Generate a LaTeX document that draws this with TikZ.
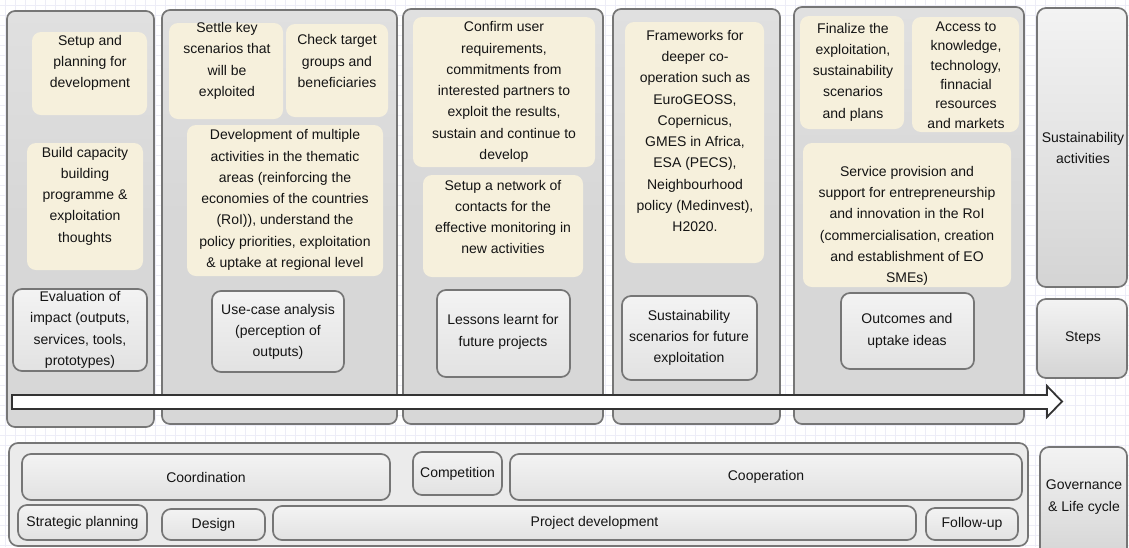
\documentclass[tikz,border=0pt]{standalone}
\usepackage{fontspec}
\setmainfont{Liberation Sans}
\definecolor{edge}{RGB}{118,118,118}
\definecolor{panelA}{RGB}{224,224,224}
\definecolor{panelB}{RGB}{215,215,215}
\definecolor{cream}{RGB}{246,240,220}
\definecolor{boxtop}{RGB}{243,243,243}
\definecolor{boxbot}{RGB}{226,226,226}
\definecolor{sidetop}{RGB}{243,243,243}
\definecolor{sidebot}{RGB}{212,212,212}
\definecolor{ink}{RGB}{20,20,20}
\definecolor{gridc}{RGB}{237,237,247}
\definecolor{arrowc}{RGB}{51,51,51}
% box node spanning the rectangle (x1,y1)-(x2,y2), coordinates in px
\newcommand\mkbox[6]{%
  \node[#1, minimum width={(#5)-(#3)}, minimum height={(#6)-(#4)}, inner sep=0pt]
    (#2) at ({((#3)+(#5))/2},{((#4)+(#6))/2}) {};}
\begin{document}
\begin{tikzpicture}[x=1pt,y=-1pt,
  panel/.style={draw=edge, line width=1.7pt, rounded corners=8pt, top color=panelA, bottom color=panelB, middle color=panelB},
  creambox/.style={fill=cream, rounded corners=9pt},
  graybox/.style={draw=edge, line width=1.7pt, rounded corners=9pt, top color=boxtop, bottom color=boxbot},
  sidebox/.style={draw=edge, line width=1.7pt, rounded corners=9pt, top color=sidetop, bottom color=sidebot},
  basebox/.style={draw=edge, line width=1.7pt, rounded corners=9pt, fill=boxbot!70!white},
  txt/.style={font=\fontsize{14}{21.3}\selectfont, align=center, inner sep=0pt, text=ink},
  gridline/.style={draw=gridc, line width=0.6pt},
  timeline/.style={draw=arrowc, line width=1.8pt, fill=white, line join=miter}]
\useasboundingbox (0,0) rectangle (1129,547);
\clip (0,0) rectangle (1129,547);

% background grid
\foreach \gx in {5,15,...,1125} \draw[gridline] (\gx,0) -- (\gx,547);
\foreach \gy in {5,15,...,545} \draw[gridline] (0,\gy) -- (1129,\gy);

% phase columns
\mkbox{panel}{p1}{7}{11}{154}{427}
\mkbox{panel}{p2}{162}{10}{397}{424}
\mkbox{panel}{p3}{403}{9}{603}{424}
\mkbox{panel}{p4}{613}{9}{780}{424}
\mkbox{panel}{p5}{794}{7}{1024}{424}

% row labels on the right
\mkbox{sidebox}{rsust}{1037}{8}{1127}{287}
\mkbox{sidebox}{rsteps}{1037}{299}{1127}{378}
\mkbox{sidebox}{rgov}{1040}{447}{1127}{562}
\node[txt] (tsust) at (1083,148) {Sustainability\\activities};
\node[txt] (tsteps) at (1083,338) {Steps};
\node[txt] (tgov) at (1084,497) {Governance\\\& Life cycle};

% sustainability activities
\mkbox{creambox}{c1}{32}{32}{147}{115}
\mkbox{creambox}{c2}{27}{143}{143}{270}
\mkbox{creambox}{c3}{169}{23}{283}{119}
\mkbox{creambox}{c4}{286}{24}{388}{117}
\mkbox{creambox}{c5}{187}{125}{383}{276}
\mkbox{creambox}{c6}{413}{17}{595}{167}
\mkbox{creambox}{c7}{423}{175}{583}{277}
\mkbox{creambox}{c8}{625}{22}{764}{263}
\mkbox{creambox}{c9}{800}{16}{904}{129}
\mkbox{creambox}{c10}{912}{17}{1019}{132}
\mkbox{creambox}{c11}{803}{143}{1011}{287}

\node[txt] (t1) at (90,63) {Setup and\\planning for\\development};
\node[txt] (t2) at (85,196) {Build capacity\\building\\programme \&\\exploitation\\thoughts};
\node[txt] (t3) at (227,61) {Settle key\\scenarios that\\will be\\exploited};
\node[txt] (t4) at (337,61) {Check target\\groups and\\beneficiaries};
\node[txt] (t5) at (285,200) {Development of multiple\\activities in the thematic\\areas (reinforcing the\\economies of the countries\\(RoI)), understand the\\policy priorities, exploitation\\\& uptake at regional level};
\node[txt] (t6) at (504,92) {Confirm user\\requirements,\\commitments from\\interested partners to\\exploit the results,\\sustain and continue to\\develop};
\node[txt] (t7) at (503,217) {Setup a network of\\contacts for the\\effective monitoring in\\new activities};
\node[txt] (t8) at (695,131) {Frameworks for\\deeper co-\\operation such as\\EuroGEOSS,\\Copernicus,\\GMES in Africa,\\ESA (PECS),\\Neighbourhood\\policy (Medinvest),\\H2020.};
\node[txt] (t9) at (853,72) {Finalize the\\exploitation,\\sustainability\\scenarios\\and plans};
\node[txt, font=\fontsize{14}{19.3}\selectfont] (t10) at (966,75) {Access to\\knowledge,\\technology,\\finnacial\\resources\\and markets};
\node[txt] (t11) at (907,226) {Service provision and\\support for entrepreneurship\\and innovation in the RoI\\(commercialisation, creation\\and establishment of EO\\SMEs)};

% steps
\mkbox{graybox}{s1}{13}{289}{147}{371}
\mkbox{graybox}{s2}{212}{291}{344}{372}
\mkbox{graybox}{s3}{437}{290}{570}{377}
\mkbox{graybox}{s4}{622}{296}{757}{380}
\mkbox{graybox}{s5}{841}{293}{974}{369}
\node[txt] (u1) at (80,330) {Evaluation of\\impact (outputs,\\services, tools,\\prototypes)};
\node[txt] (u2) at (278,332) {Use-case analysis\\(perception of\\outputs)};
\node[txt] (u3) at (503,332) {Lessons learnt for\\future projects};
\node[txt] (u4) at (689,338) {Sustainability\\scenarios for future\\exploitation};
\node[txt] (u5) at (907,331) {Outcomes and\\uptake ideas};

% time line across the phases
\draw[timeline] (12,395) -- (1047,395) -- (1047,386) -- (1062,401.5)
  -- (1047,417) -- (1047,409) -- (12,409) -- cycle;

% governance and life cycle
\mkbox{basebox}{g0}{9}{443}{1028}{546}
\mkbox{graybox}{g1}{22}{454}{390}{500}
\mkbox{graybox}{g2}{413}{452}{502}{495}
\mkbox{graybox}{g3}{510}{454}{1022}{500}
\mkbox{graybox}{g4}{18}{505}{147}{540}
\mkbox{graybox}{g5}{162}{509}{265}{540}
\mkbox{graybox}{g6}{273}{506}{916}{540}
\mkbox{graybox}{g7}{926}{508}{1018}{540}
\node[txt] (v1) at (g1.center) {Coordination};
\node[txt] (v2) at (g2.center) {Competition};
\node[txt] (v3) at (g3.center) {Cooperation};
\node[txt] (v4) at (g4.center) {Strategic planning};
\node[txt] (v5) at (g5.center) {Design};
\node[txt] (v6) at (g6.center) {Project development};
\node[txt] (v7) at (g7.center) {Follow-up};
\end{tikzpicture}
\end{document}
